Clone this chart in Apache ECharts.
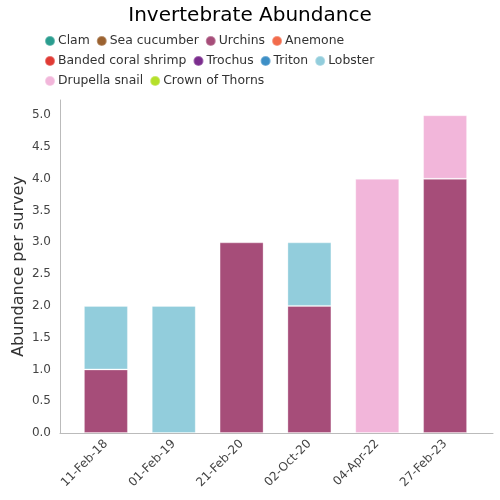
<!DOCTYPE html>
<html><head><meta charset="utf-8">
<script src="https://cdn.jsdelivr.net/npm/echarts@6/dist/echarts.min.js"></script>
<style>html,body{margin:0;padding:0;background:#fff}#c{width:500px;height:500px}</style>
</head><body><div id="c"></div>
<script>
const categories = ['11-Feb-18','01-Feb-19','21-Feb-20','02-Oct-20','04-Apr-22','27-Feb-23'];
const seriesNames = ['Clam','Sea cucumber','Urchins','Anemone','Banded coral shrimp','Trochus','Triton','Lobster','Drupella snail','Crown of Thorns'];
const colors = ['#2a9d8f','#9b6230','#a64d79','#f26b4b','#e03a34','#7b2d8e','#3d8fc6','#92cddc','#f2b6da','#b5e02a'];
const clam = [0,0,0,0,0,0];
const seaCucumber = [0,0,0,0,0,0];
const urchins = [1,0,3,2,0,4];
const anemone = [0,0,0,0,0,0];
const shrimp = [0,0,0,0,0,0];
const trochus = [0,0,0,0,0,0];
const triton = [0,0,0,0,0,0];
const lobster = [1,2,0,1,0,0];
const drupella = [0,0,0,0,4,1];
const cot = [0,0,0,0,0,0];
const values = [clam,seaCucumber,urchins,anemone,shrimp,trochus,triton,lobster,drupella,cot];
const yMax = 5.24;

const chart = echarts.init(document.getElementById('c'));
chart.setOption({
  animation:false,
  title:{text:'Invertebrate Abundance',left:'center',top:1,textStyle:{fontFamily:'DejaVu Sans',fontSize:20,fontWeight:'normal',color:'#000'}},
  legend:{left:39,top:29,width:340,itemWidth:10,itemHeight:10,itemGap:6,icon:'circle',
    textStyle:{fontFamily:'DejaVu Sans',fontSize:12.4,lineHeight:14,color:'#333',padding:[0,0,0,-2]},data:seriesNames},
  grid:[
    {left:72,right:21,top:100,bottom:67},
    {left:60,right:7,top:100,bottom:67}
  ],
  xAxis:[
    {type:'category',gridIndex:0,data:categories,
      axisLine:{show:false},axisTick:{show:false},
      axisLabel:{rotate:45,fontFamily:'DejaVu Sans',fontSize:12,color:'#444',margin:9}},
    {type:'value',gridIndex:1,min:0,max:1,axisLine:{show:true,lineStyle:{color:'#bbb'}},
      axisTick:{show:false},axisLabel:{show:false},splitLine:{show:false}}
  ],
  yAxis:[
    {type:'value',gridIndex:0,min:0,max:yMax,interval:0.5,show:false,splitLine:{show:false}},
    {type:'value',gridIndex:1,min:0,max:yMax,interval:0.5,name:'Abundance per survey',nameLocation:'middle',nameGap:33,nameMoveOverlap:false,
      nameTextStyle:{fontFamily:'DejaVu Sans',fontSize:16,color:'#333'},
      axisLine:{show:true,lineStyle:{color:'#bbb'}},axisTick:{show:false},splitLine:{show:false},
      axisLabel:{showMaxLabel:false,fontFamily:'DejaVu Sans',fontSize:12,color:'#444',margin:9,formatter:v=>v.toFixed(1)}}
  ],
  series:seriesNames.map((n,i)=>({name:n,type:'bar',stack:'a',barWidth:44,xAxisIndex:0,yAxisIndex:0,
    data:values[i].map(v=>v===0?null:v),
    itemStyle:{color:colors[i],borderColor:'rgba(255,255,255,0.3)',borderWidth:1}}))
});
</script></body></html>
